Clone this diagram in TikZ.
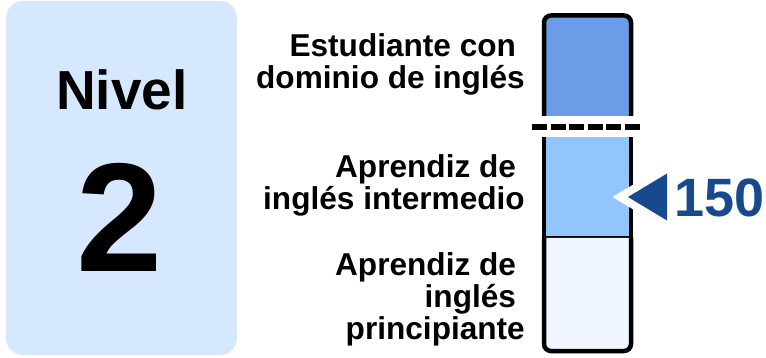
\documentclass[tikz,border=0pt]{standalone}
\usepackage{fontspec}
\setmainfont{Liberation Sans}
\definecolor{panelc}{HTML}{D6E8FF}
\definecolor{topc}{HTML}{6A9CE8}
\definecolor{midc}{HTML}{93C5FD}
\definecolor{botc}{HTML}{EFF6FF}
\definecolor{arrowc}{HTML}{174A8C}
\tikzset{
  lbl/.style={inner sep=0pt, align=right, anchor=base east, font=\bfseries\fontsize{31.6}{32}\selectfont},
  barline/.style={draw=black, line width=4.5pt},
}
\begin{document}
\begin{tikzpicture}[x=1pt,y=-1pt]
\useasboundingbox (0,0) rectangle (766,358);
% left panel
\fill[panelc, rounded corners=17pt] (6,1) rectangle (237,355);
\node[inner sep=0pt, anchor=base, font=\bfseries\fontsize{55}{60}\selectfont] (nivel) at (122,110) {Nivel};
\node[inner sep=0pt, anchor=base, font=\bfseries\fontsize{155}{160}\selectfont] (num) at (120,272) {2};
% bar
\filldraw[fill=topc, barline] (544,116) [rounded corners=7pt] -- (544,15.5) -- (631,15.5) [sharp corners] -- (631,116);
\fill[midc] (544,137) rectangle (631,238);
\draw[barline] (544,137) -- (544,238) -- (631,238) -- (631,137);
\filldraw[fill=botc, barline] (544,238) [rounded corners=7pt] -- (544,351) -- (631,351) [sharp corners] -- (631,238);
\draw[black, line width=6pt, dash pattern=on 15pt off 3.6pt] (532,127.5) -- (640,127.5);
% labels (anchor = baseline of the last line)
\node[lbl] (l1) at (525,89) {Estudiante con\kern.278em\\dominio de inglés};
\node[lbl] (l2) at (525,210) {Aprendiz de\kern.278em\\inglés intermedio};
\node[lbl] (l3) at (525,339) {Aprendiz de\kern.278em\\inglés\kern.278em\\principiante};
% arrow
\draw[white, line width=16pt, miter limit=10, fill=white] (628,197) -- (667,173.5) -- (667,220.5) -- cycle;
\fill[arrowc] (628,197) -- (667,173.5) -- (667,220.5) -- cycle;
\node[inner sep=0pt, anchor=base west, text=arrowc, font=\bfseries\fontsize{54}{60}\selectfont] (val) at (674,217) {150};
\end{tikzpicture}
\end{document}
